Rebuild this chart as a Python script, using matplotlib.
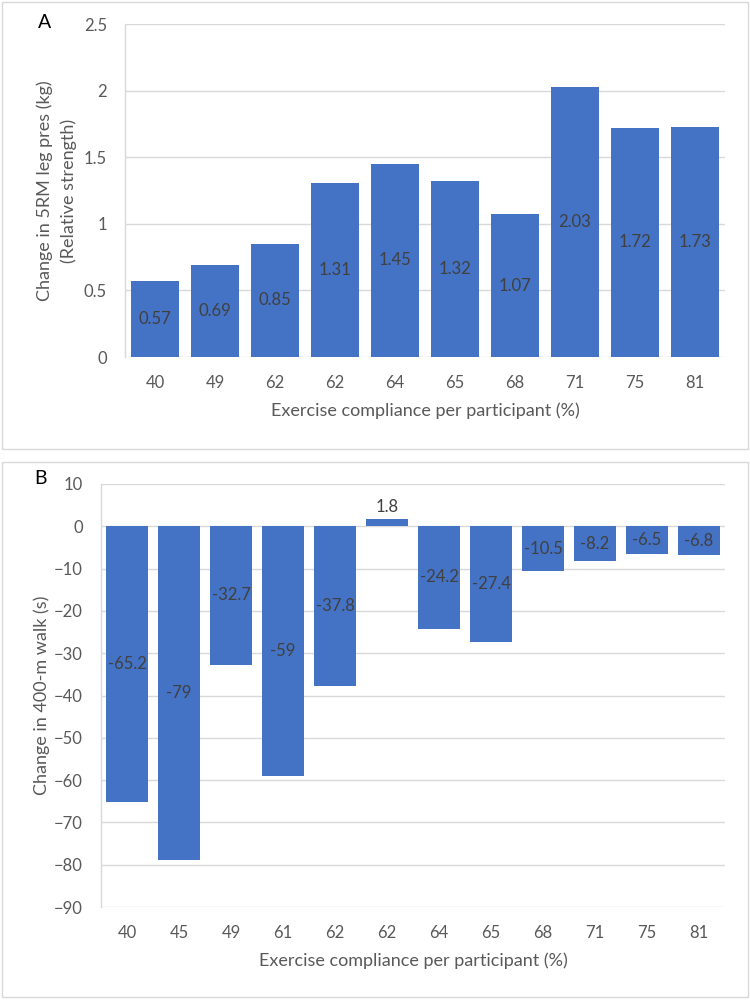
import matplotlib
matplotlib.use("Agg")
import matplotlib.pyplot as plt
from matplotlib.patches import Rectangle

# Panel A data
cats_a = ["40", "49", "62", "62", "64", "65", "68", "71", "75", "81"]
vals_a = [0.57, 0.69, 0.85, 1.31, 1.45, 1.32, 1.07, 2.03, 1.72, 1.73]

# Panel B data
cats_b = ["40", "45", "49", "61", "62", "62", "64", "65", "68", "71", "75", "81"]
vals_b = [-65.2, -79, -32.7, -59, -37.8, 1.8, -24.2, -27.4, -10.5, -8.2, -6.5, -6.8]

BAR = "#4472C4"
GRID = "#D9D9D9"
TXT = "#595959"
LAB = "#404040"

plt.rcParams["font.family"] = ["Lato", "DejaVu Sans"]

fig = plt.figure(figsize=(7.5, 10.01), dpi=100)
W, H = 750, 1001


def ax_rect(left, top, right, bottom):
    return [left / W, 1 - bottom / H, (right - left) / W, (bottom - top) / H]


def style(ax, ticks):
    for s in ["top", "right", "bottom"]:
        ax.spines[s].set_visible(False)
    ax.spines["left"].set_color(GRID)
    ax.spines["left"].set_linewidth(1)
    ax.set_yticks(ticks)
    ax.yaxis.grid(True, color=GRID, linewidth=1)
    ax.set_axisbelow(True)
    ax.tick_params(length=0, labelsize=12, labelcolor=TXT)
    ax.tick_params(axis="y", pad=13)
    ax.tick_params(axis="x", pad=13)


# panel borders
fig.patches.append(Rectangle((2 / W, 1 - 449 / H), 746 / W, 447 / H, transform=fig.transFigure,
                             fill=False, edgecolor=GRID, linewidth=1))
fig.patches.append(Rectangle((2 / W, 1 - 997 / H), 746 / W, 535 / H, transform=fig.transFigure,
                             fill=False, edgecolor=GRID, linewidth=1))

# Panel A
ax1 = fig.add_axes(ax_rect(125, 24, 725, 357))
x1 = list(range(len(cats_a)))
bars1 = ax1.bar(x1, vals_a, width=0.8, color=BAR, zorder=2)
ax1.set_xlim(-0.5, len(cats_a) - 0.5)
ax1.set_ylim(0, 2.5)
style(ax1, [0, 0.5, 1, 1.5, 2, 2.5])
ax1.set_yticklabels(["0", "0.5", "1", "1.5", "2", "2.5"])
ax1.set_xticks(x1)
ax1.set_xticklabels(cats_a)
ax1.bar_label(bars1, labels=[f"{v:g}" for v in vals_a], label_type="center",
              fontsize=12, color=LAB)
ax1.set_xlabel("Exercise compliance per participant (%)", fontsize=13, color=TXT, labelpad=8)
ax1.set_ylabel("Change in 5RM leg pres (kg)\n(Relative strength)", fontsize=13, color=TXT,
               linespacing=1.55, va="center")
ax1.yaxis.set_label_coords((57 - 125) / 600, 0.5)
fig.text(45 / W, 1 - 22 / H, "A", fontsize=14, color="black", ha="center", va="center")

# Panel B
ax2 = fig.add_axes(ax_rect(101, 484, 725, 907))
x2 = list(range(len(cats_b)))
bars2 = ax2.bar(x2, vals_b, width=0.79, color=BAR, zorder=2)
ax2.set_xlim(-0.5, len(cats_b) - 0.5)
ax2.set_ylim(-90, 10)
style(ax2, list(range(-90, 11, 10)))
ax2.set_xticks(x2)
ax2.set_xticklabels(cats_b)
ax2.bar_label(bars2, labels=[f"{v:g}" if v < 0 else "" for v in vals_b], label_type="center",
              fontsize=12, color=LAB)
ax2.bar_label(bars2, labels=[f"{v:g}" if v > 0 else "" for v in vals_b], label_type="edge",
              fontsize=12, color=LAB, padding=3)
ax2.set_xlabel("Exercise compliance per participant (%)", fontsize=13, color=TXT, labelpad=8)
ax2.set_ylabel("Change in 400-m walk (s)", fontsize=13, color=TXT, va="center")
ax2.yaxis.set_label_coords((42 - 101) / 624, 0.5)
fig.text(40 / W, 1 - 479 / H, "B", fontsize=14, color="black", ha="center", va="center")

fig.savefig("out.png", dpi=100)
